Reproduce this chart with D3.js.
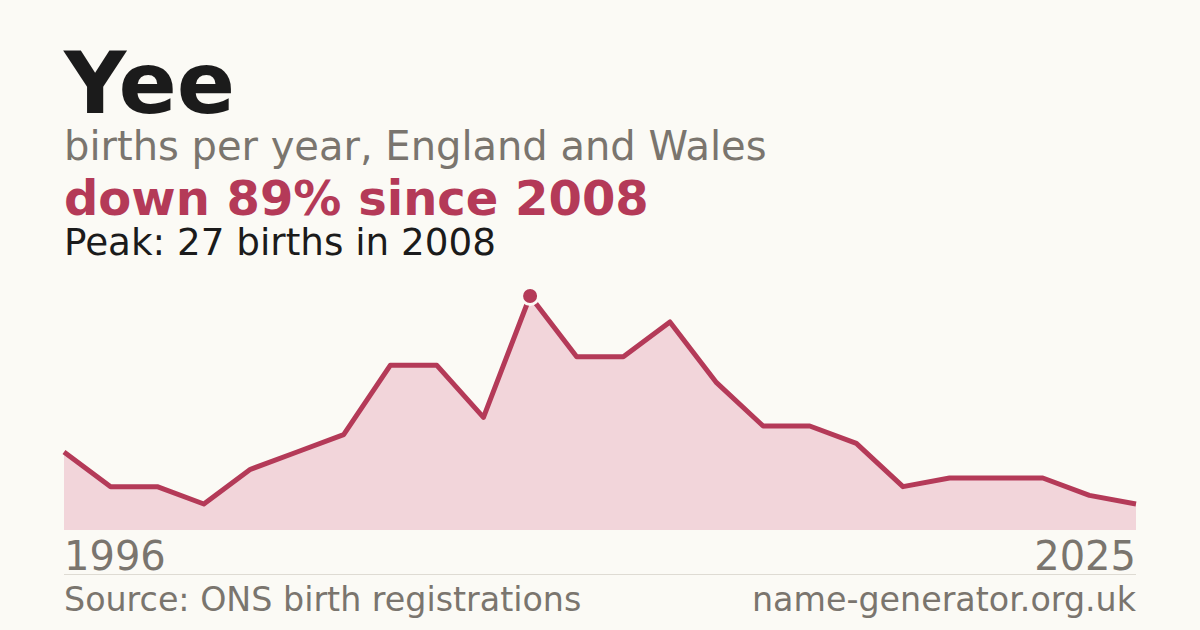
<!DOCTYPE html>
<html><head><meta charset="utf-8">
<script src="https://cdn.jsdelivr.net/npm/d3@7"></script>
<style>
html,body{margin:0;padding:0;background:#fbfaf5;}
svg{display:block;font-family:"DejaVu Sans",sans-serif;}
</style></head>
<body>
<svg id="c" width="1200" height="630"></svg>
<script>
const years = [1996,1997,1999,2000,2001,2002,2004,2005,2006,2007,2008,2009,2010,2011,2013,2014,2015,2016,2018,2019,2021,2022,2024,2025];
const births = [9,5,5,3,7,9,11,19,19,13,27,20,20,24,17,12,12,10,5,6,6,6,4,3];
const axisLabels = ["1996","2025"];

(function(){
const svg = d3.select("#c");
const W = 1200, H = 630;
svg.append("rect").attr("width",W).attr("height",H).attr("fill","#fbfaf5");

const pl = 64, pr = 1136, base = 530, ptop = 296;
const x = d3.scalePoint().domain(years).range([pl,pr]);
const y = d3.scaleLinear().domain([0,d3.max(births)]).range([base,ptop]);
const data = years.map((yr,i)=>({yr,v:births[i]}));

const red = "#b43a58";

svg.append("text").attr("x",64).attr("y",113).attr("font-size",86).attr("font-weight","bold").attr("fill","#1b1b1b").text("Yee");
svg.append("text").attr("x",64).attr("y",160).attr("font-size",40).attr("fill","#7a756e").text("births per year, England and Wales");
svg.append("text").attr("x",64).attr("y",215).attr("font-size",48).attr("font-weight","bold").attr("fill",red).text("down 89% since 2008");
svg.append("text").attr("x",64).attr("y",255).attr("font-size",37.3).attr("fill","#1b1b1b").text("Peak: 27 births in 2008");

svg.append("path").datum(data)
  .attr("d",d3.area().x(d=>x(d.yr)).y0(base).y1(d=>y(d.v)))
  .attr("fill","#f2d5da");
svg.append("path").datum(data)
  .attr("d",d3.line().x(d=>x(d.yr)).y(d=>y(d.v)))
  .attr("fill","none").attr("stroke",red).attr("stroke-width",5).attr("stroke-linejoin","round");

const peak = data[d3.maxIndex(data,d=>d.v)];
svg.append("circle").attr("cx",x(peak.yr)).attr("cy",y(peak.v)).attr("r",8.5)
  .attr("fill",red).attr("stroke","#fbfaf5").attr("stroke-width",3);

svg.append("text").attr("x",pl).attr("y",570).attr("font-size",40).attr("fill","#7a756e").text(axisLabels[0]);
svg.append("text").attr("x",pr).attr("y",570).attr("font-size",40).attr("fill","#7a756e").attr("text-anchor","end").text(axisLabels[1]);

svg.append("line").attr("x1",pl).attr("x2",pr).attr("y1",574.5).attr("y2",574.5).attr("stroke","#dedbd3").attr("stroke-width",1);

svg.append("text").attr("x",pl).attr("y",611).attr("font-size",33.3).attr("fill","#7a756e").text("Source: ONS birth registrations");
svg.append("text").attr("x",pr).attr("y",611).attr("font-size",33.3).attr("fill","#7a756e").attr("text-anchor","end").text("name-generator.org.uk");
})();
</script>
</body></html>
